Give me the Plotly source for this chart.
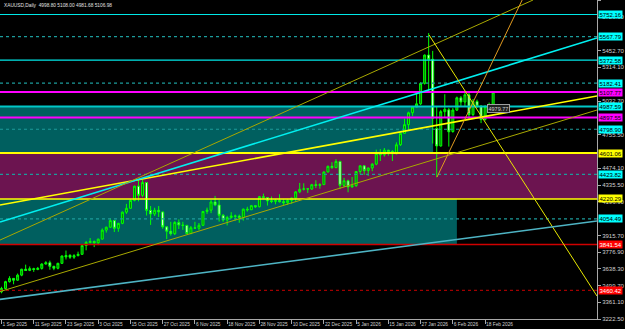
import pandas as pd
import plotly.graph_objects as go

# ---- data -------------------------------------------------------------
dates = [d for d in pd.bdate_range("2025-09-01", "2026-02-20")
         if d.strftime("%Y-%m-%d") not in ("2025-12-25", "2026-01-01")]

opens = [3448,3476,3533,3560,3545,3587,3636,3626,3641,3634,3643,3679,3690,3660,3644,3685,3750,3752,3736,3749,
         3760,3833,3858,3866,3856,3886,3961,3985,4040,3976,4017,4110,4142,4208,4326,4250,4356,4125,4095,4126,
         4112,3988,3952,3931,4025,4003,4000,3932,3980,3977,4001,4116,4127,4195,4170,4084,4045,4066,4078,4077,
         4065,4135,4130,4164,4155,4239,4231,4204,4199,4208,4197,4189,4208,4228,4279,4300,4304,4302,4338,4332,
         4339,4444,4491,4480,4532,4333,4371,4319,4330,4448,4495,4455,4477,4509,4597,4587,4625,4615,4595,4670,
         4765,4837,4936,4983,5010,5180,5415,5380,4805,4660,4945,4960,4780,4958,5060,5025,5085,4920,5030,4990,
         4880,4985,4998.80]
highs = [3490,3540,3578,3563,3600,3640,3674,3659,3648,3655,3685,3703,3707,3665,3690,3750,3791,3760,3761,3782,
         3835,3871,3895,3875,3890,3975,3990,4059,4045,4022,4116,4179,4218,4330,4380,4381,4360,4161,4147,4161,
         4115,3995,4030,4035,4050,4030,4005,3995,4030,4020,4120,4148,4211,4245,4210,4095,4080,4110,4090,4090,
         4140,4155,4170,4168,4245,4264,4235,4240,4220,4259,4218,4218,4230,4285,4353,4350,4310,4345,4375,4350,
         4450,4497,4525,4550,4536,4395,4380,4402,4452,4500,4500,4480,4517,4630,4634,4643,4628,4625,4690,4770,
         4888,4945,4990,5110,5190,5420,5598,5450,4985,4960,5090,4975,4975,5070,5075,5115,5100,5050,5045,5000,
         5000,5020,5108.00]
lows = [3436,3470,3525,3511,3540,3578,3621,3620,3614,3628,3633,3675,3632,3628,3635,3680,3717,3722,3722,3743,
        3755,3793,3850,3820,3836,3884,3940,3980,3945,3947,4010,4095,4140,4200,4200,4235,4082,4004,4078,4070,
        3972,3886,3915,3920,3970,3963,3930,3928,3972,3960,3995,4095,4102,4160,4032,4030,4000,4055,4040,4022,
        4040,4115,4128,4145,4150,4220,4165,4185,4175,4190,4170,4170,4180,4200,4268,4290,4270,4295,4310,4305,
        4337,4440,4470,4476,4302,4320,4275,4315,4320,4425,4420,4410,4450,4500,4535,4572,4580,4535,4590,4660,
        4765,4790,4910,4980,5000,5170,5100,4680,4400,4655,4900,4655,4770,4950,4990,4990,4880,4910,4975,4850,
        4870,4960,4981.68]
closes = [3476,3533,3560,3545,3587,3636,3626,3641,3634,3643,3679,3690,3660,3644,3685,3746,3738,3736,3749,3760,
          3833,3858,3866,3856,3886,3961,3985,4040,3976,4017,4110,4142,4208,4326,4250,4356,4125,4095,4126,4112,
          3988,3952,3931,4025,4003,4000,3932,3980,3977,4001,4116,4127,4195,4170,4084,4045,4066,4078,4077,4065,
          4135,4130,4164,4155,4239,4231,4204,4199,4208,4197,4189,4208,4228,4279,4300,4304,4302,4338,4332,4339,
          4444,4491,4480,4532,4333,4371,4319,4330,4448,4495,4455,4477,4509,4597,4587,4625,4615,4595,4670,4765,
          4837,4936,4983,5010,5180,5415,5380,4890,4660,4945,4965,4778,4958,5060,5025,5085,4920,5030,4990,4880,
          4985,4998.80,5106.98]

price_ticks = [5872.70, 5729.90, 5452.70, 5314.10, 5032.70, 4755.50, 4474.10, 4335.50,
               4196.90, 3915.70, 3776.90, 3638.30, 3499.70, 3361.10, 3222.50]
date_tick_idx = [0, 8, 16, 24, 32, 40, 48, 56, 64, 72, 80, 88, 96, 104, 112, 120]

# horizontal levels: price, line colour, dash, width, label bg, label fg
levels = [
    (5752.16, "#00e8e8", "solid", 1.2, "#00ffff", "black"),
    (5567.79, "#1c9c9c", "dot", 1.2, "#00ffff", "black"),
    (5372.58, "#00e8e8", "solid", 1.2, "#00ffff", "black"),
    (5182.41, "#1c9c9c", "dot", 1.2, "#00ffff", "black"),
    (5107.77, "#ff00ff", "solid", 2, "#ff00ff", "black"),
    (4987.59, "#00c8c8", "solid", 2, "#00ffff", "black"),
    (4897.55, "#ff00ff", "solid", 2, "#ff00ff", "black"),
    (4798.90, "#1c9c9c", "dot", 1.2, "#00ffff", "black"),
    (4601.06, "#ffff00", "solid", 2, "#ffff00", "black"),
    (4423.82, "#1c9c9c", "dot", 1.2, "#00ffff", "black"),
    (4220.29, "#ffff00", "solid", 1.5, "#ffff00", "black"),
    (4054.49, "#1c9c9c", "dot", 1.2, "#00ffff", "black"),
    (3841.54, "#d00000", "solid", 1.5, "#ff0000", "white"),
    (3460.42, "#a00000", "dot", 1.2, "#ff0000", "white"),
]

# zones: bar-from, bar-to, price-low, price-high, colour
zones = [
    (-1, 107.1, 4601.06, 4987.59, "#005f5f"),
    (-1, 113.0, 3841.54, 4220.29, "#005f5f"),
    (-1, 160, 4220.29, 4601.06, "#6c1450"),
]

# trend lines: bar0, price0, bar1, price1, colour, width
trends = [
    (-0.37, 4169.1, 147.77, 5074.9, "#ffff00", 1.6),
    (-0.37, 4027.9, 147.77, 5556.9, "#00f0f0", 1.6),
    (-0.37, 3878.3, 131.9, 5872.7, "#a8a800", 1),
    (-0.37, 3450.3, 147.77, 4958.6, "#a8a800", 1),
    (106.1, 5581.9, 147.77, 3413.0, "#e8e800", 1),
    (108.07, 4401.8, 129.2, 5872.7, "#e09a20", 1),
    (-0.37, 3385.5, 147.77, 4036.2, "#4eb4c4", 1.6),
]

# ---- figure -----------------------------------------------------------
idx = list(range(len(dates)))
fig = go.Figure()
fig.add_trace(go.Candlestick(
    x=idx, open=opens, high=highs, low=lows, close=closes,
    increasing=dict(line=dict(color="#00ff00", width=1), fillcolor="#008000"),
    decreasing=dict(line=dict(color="#00ff00", width=1), fillcolor="#ffffff"),
    showlegend=False, hoverinfo="skip"))

shapes = []
for x0, x1, p0, p1, col in zones:
    shapes.append(dict(type="rect", xref="x", yref="y", x0=x0, x1=x1, y0=p0, y1=p1,
                       fillcolor=col, line=dict(width=0), layer="below"))
for p, col, dash, w, _, _ in levels:
    shapes.append(dict(type="line", xref="paper", yref="y", x0=0, x1=1, y0=p, y1=p,
                       line=dict(color=col, width=w, dash=dash), layer="above"))
for x0, p0, x1, p1, col, w in trends:
    shapes.append(dict(type="line", xref="x", yref="y", x0=x0, y0=p0, x1=x1, y1=p1,
                       line=dict(color=col, width=w), layer="above"))

annotations = []
for p, _, _, _, bg, fg in levels:
    annotations.append(dict(xref="paper", yref="y", x=1, y=p, xanchor="left", yanchor="middle",
                            xshift=1, text=f"{p:.2f}", showarrow=False, bgcolor=bg,
                            font=dict(size=6, color=fg, family="Liberation Sans"), borderpad=0.5))
annotations.append(dict(xref="paper", yref="paper", x=0, y=1, xanchor="left", yanchor="top",
                        xshift=2, yshift=-1,
                        text=f"XAUUSD,Daily  {opens[-1]:.2f} {highs[-1]:.2f} {lows[-1]:.2f} {closes[-1]:.2f}",
                        showarrow=False, font=dict(size=4.8, color="#e0e0e0", family="Liberation Sans")))
annotations.append(dict(xref="x", yref="y", x=120.5, y=4975, xanchor="left", yanchor="middle",
                        text="4979.77", showarrow=False, bgcolor="#202020", bordercolor="#a0a0a0",
                        borderwidth=1, borderpad=0.5,
                        font=dict(size=5.5, color="#d0d0d0", family="Liberation Sans")))

fig.update_layout(
    width=625, height=329, margin=dict(l=0, r=28, t=0, b=10, autoexpand=False),
    paper_bgcolor="black", plot_bgcolor="black",
    shapes=shapes, annotations=annotations,
    xaxis=dict(range=[-0.37, 147.77], rangeslider=dict(visible=False), showgrid=False,
               zeroline=False, showline=True, linecolor="#a8a8a8", linewidth=1,
               ticks="outside", ticklen=4, tickcolor="#a8a8a8", tickangle=0, automargin=False,
               tickvals=date_tick_idx,
               ticktext=[f"{dates[i].day} {dates[i].strftime('%b %Y')}" for i in date_tick_idx],
               ticklabelposition="outside right",
               tickfont=dict(size=4.8, color="#d0d0d0", family="Liberation Sans")),
    yaxis=dict(side="right", range=[3222.5, 5872.7], showgrid=False, zeroline=False,
               showline=True, linecolor="#a8a8a8", linewidth=1, automargin=False,
               ticks="outside", ticklen=3, tickcolor="#a8a8a8",
               tickvals=price_ticks, ticktext=[f"{v:.2f}" for v in price_ticks],
               tickfont=dict(size=6, color="#d0d0d0", family="Liberation Sans")),
)
fig.write_html("out.html")
